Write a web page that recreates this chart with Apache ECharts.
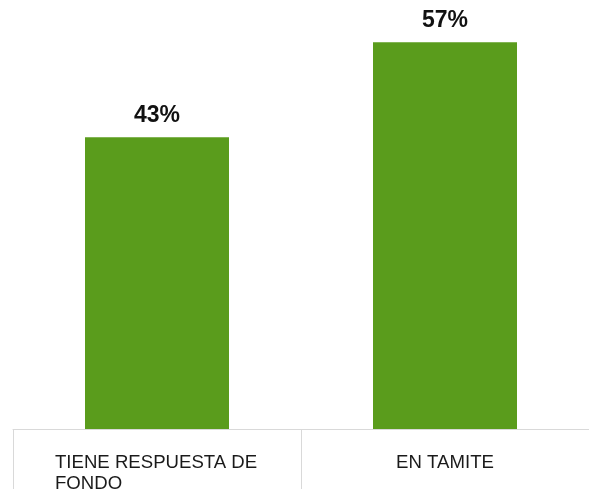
<!DOCTYPE html>
<html>
<head>
<meta charset="utf-8">
<script src="https://cdn.jsdelivr.net/npm/echarts@6/dist/echarts.min.js"></script>
<style>html,body{margin:0;padding:0;background:#fff;}#c{width:589px;height:494px;}</style>
</head>
<body>
<div id="c"></div>
<script>
var categories = ['TIENE RESPUESTA DE\nFONDO', 'EN TAMITE'];
var values = [43, 57];
var yMin = 0, yMax = 60;

var chart = echarts.init(document.getElementById('c'), null, {renderer: 'canvas'});
chart.setOption({
  animation: false,
  backgroundColor: '#ffffff',
  grid: {left: 13, width: 584, top: 22, bottom: 60},
  xAxis: {
    type: 'category',
    data: categories,
    axisLine: {lineStyle: {color: '#d9d9d9', width: 1}},
    axisTick: {show: true, interval: 0, length: 60, lineStyle: {color: '#d9d9d9', width: 1}},
    axisLabel: {
      interval: 0,
      hideOverlap: false,
      margin: 23,
      color: '#1a1a1a',
      fontFamily: 'Liberation Sans, Arial, sans-serif',
      fontSize: 18.6,
      lineHeight: 21,
      formatter: function (v) {
        if (v.indexOf('\n') >= 0) {
          return v.split('\n').map(function (s) { return '{l|' + s + '}'; }).join('\n');
        }
        return v;
      },
      rich: {
        l: {width: 204, align: 'left', fontSize: 18.6, lineHeight: 21, color: '#1a1a1a', fontFamily: 'Liberation Sans, Arial, sans-serif'}
      }
    }
  },
  yAxis: {
    type: 'value', min: yMin, max: yMax, show: false,
    splitLine: {show: false}
  },
  series: [{
    type: 'bar',
    data: values,
    barWidth: '50%',
    itemStyle: {color: '#5a9c1c'},
    label: {
      show: true, position: 'top', distance: 10,
      formatter: function (p) { return p.value + '%'; },
      color: '#111111',
      fontFamily: 'Liberation Sans, Arial, sans-serif',
      fontWeight: 'bold',
      fontSize: 23
    }
  }]
});
</script>
</body>
</html>
